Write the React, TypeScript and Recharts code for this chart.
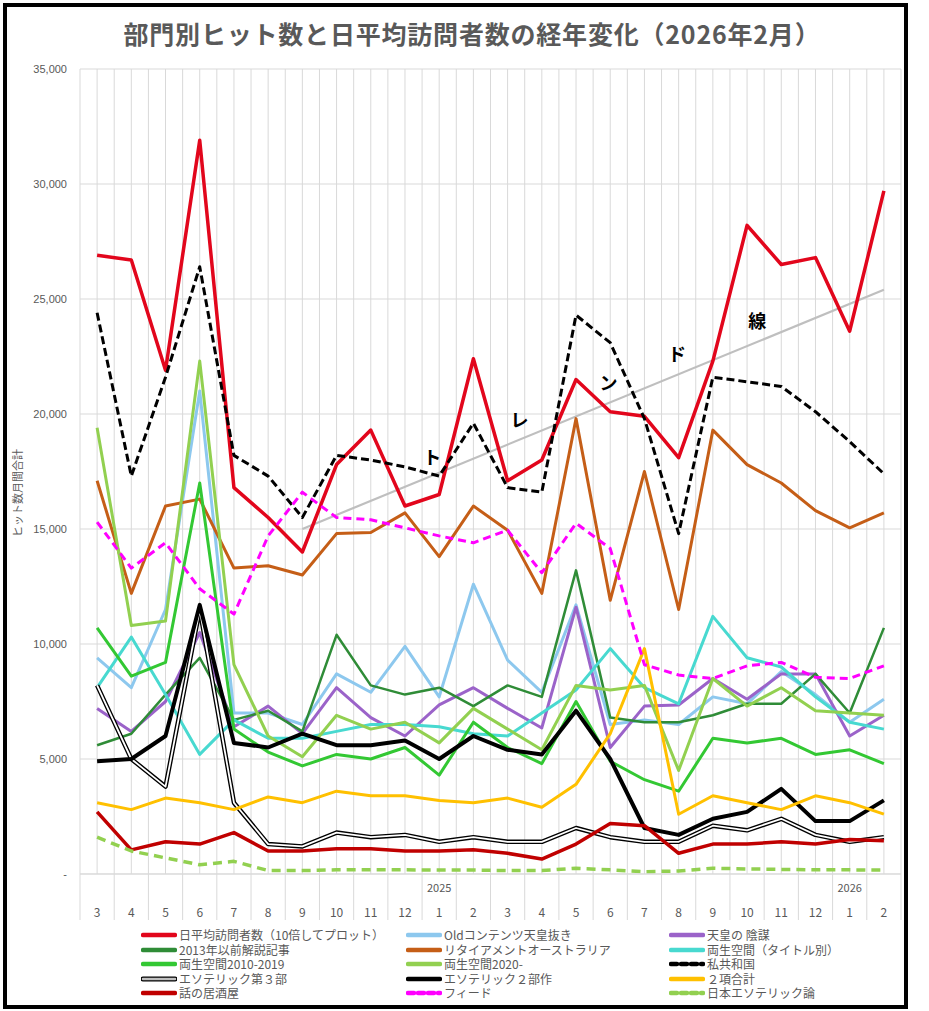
import React from "react";
import {
  LineChart, Line, XAxis, YAxis, CartesianGrid, ReferenceDot,
} from "recharts";

// month categories, 2024/3 .. 2026/2
const months = ["3", "4", "5", "6", "7", "8", "9", "10", "11", "12", "1", "2", "3", "4", "5", "6", "7", "8", "9", "10", "11", "12", "1", "2"];
const yearLabels: Record<number, string> = { 10: "2025", 22: "2026" };
const yTicks = [0, 5000, 10000, 15000, 20000, 25000, 30000, 35000];

const visitors = [26900, 26700, 21900, 31900, 16800, 15500, 14000, 17800, 19300, 16000, 16500, 22400, 17100, 18000, 21500, 20100, 19900, 18100, 22300, 28200, 26500, 26800, 23600, 29700];
const oldContent = [9400, 8100, 11500, 21000, 7000, 7000, 6500, 8700, 7900, 9900, 7700, 12600, 9300, 7900, 11700, 6500, 6700, 6500, 7700, 7400, 8800, 7800, 6600, 7600];
const emperor = [7200, 6200, 7500, 10500, 6400, 7300, 6100, 8100, 6800, 6000, 7350, 8100, 7200, 6350, 11600, 5500, 7300, 7350, 8500, 7600, 8700, 8700, 6000, 6900];
const pre2013 = [5600, 6100, 7800, 9400, 6700, 7100, 6200, 10400, 8200, 7800, 8100, 7300, 8200, 7700, 13200, 6800, 6600, 6600, 6900, 7400, 7400, 8700, 7000, 10700];
const retirement = [17100, 12200, 16000, 16300, 13300, 13400, 13000, 14800, 14850, 15700, 13800, 16000, 14950, 12200, 19800, 11900, 17500, 11500, 19300, 17800, 17000, 15800, 15050, 15700];
const byTitle = [8100, 10300, 7800, 5200, 6700, 5900, 5900, 6200, 6500, 6500, 6400, 6100, 6000, 7000, 8000, 9800, 8100, 7400, 11200, 9400, 9000, 7700, 6600, 6300];
const amph2010 = [10700, 8600, 9200, 17000, 6300, 5300, 4700, 5200, 5000, 5500, 4300, 6600, 5500, 4800, 7500, 4900, 4100, 3600, 5900, 5700, 5900, 5200, 5400, 4800];
const amph2020 = [19400, 10800, 11000, 22300, 9100, 6000, 5100, 6900, 6300, 6600, 5700, 7200, 6300, 5400, 8200, 8000, 8200, 4500, 8500, 7300, 8100, 7100, 7000, 6900];
const republic = [24400, 17300, 21600, 26400, 18200, 17300, 15500, 18200, 18000, 17700, 17300, 19600, 16800, 16600, 24300, 23100, 19800, 14800, 21600, 21400, 21200, 20100, 18800, 17400];
const esoteric3 = [8200, 5000, 3800, 11500, 3100, 1300, 1200, 1800, 1600, 1700, 1400, 1600, 1400, 1400, 2000, 1600, 1400, 1400, 2100, 1900, 2400, 1700, 1400, 1600];
const esoteric2 = [4900, 5000, 6000, 11700, 5700, 5500, 6100, 5600, 5600, 5800, 5000, 6000, 5400, 5200, 7100, 5000, 2000, 1700, 2400, 2700, 3700, 2300, 2300, 3200];
const twoSum = [3100, 2800, 3300, 3100, 2800, 3350, 3100, 3600, 3400, 3400, 3200, 3100, 3300, 2900, 3900, 6100, 9800, 2600, 3400, 3100, 2800, 3400, 3100, 2600];
const izakaya = [2700, 1050, 1400, 1300, 1800, 1000, 1000, 1100, 1100, 1000, 1000, 1050, 900, 650, 1300, 2200, 2100, 900, 1300, 1300, 1400, 1300, 1500, 1450];
const feed = [15300, 13300, 14400, 12400, 11300, 14700, 16600, 15500, 15400, 15050, 14700, 14400, 14950, 13100, 15250, 14150, 9100, 8650, 8500, 9050, 9200, 8550, 8500, 9050];
const nihonEso = [1600, 1000, 700, 400, 550, 150, 150, 180, 180, 180, 170, 170, 150, 150, 250, 180, 100, 130, 250, 220, 200, 180, 180, 170];
// linear trend drawn from 9 (2024) to 2 (2026)
const trend: (number | null)[] = months.map((_, i) => (i === 6 ? 15000 : i === 23 ? 25400 : null));

// "トレンド線" characters placed along the trend line (category index, value)
const trendChars = ["ト", "レ", "ン", "ド", "線"];
const trendCharIdx = [9.8, 12.35, 14.95, 16.95, 19.3];
const trendCharVal = [18100, 19700, 21300, 22600, 24000];

type S = { key: string; name: string; color: string; width: number; dash?: string; double?: boolean };
const series: S[] = [
  { key: "visitors", name: "日平均訪問者数（10倍してプロット）", color: "#E2061C", width: 3.5 },
  { key: "oldContent", name: "Oldコンテンツ天皇抜き", color: "#8DC8EE", width: 3 },
  { key: "emperor", name: "天皇の 陰謀", color: "#9B63C9", width: 3 },
  { key: "pre2013", name: "2013年以前解説記事", color: "#2F8C37", width: 2.5 },
  { key: "retirement", name: "リタイアメントオーストラリア", color: "#C55E17", width: 3 },
  { key: "byTitle", name: "両生空間（タイトル別）", color: "#48D9D0", width: 3 },
  { key: "amph2010", name: "両生空間2010-2019", color: "#33C833", width: 3 },
  { key: "amph2020", name: "両生空間2020-", color: "#92D050", width: 3 },
  { key: "republic", name: "私共和国", color: "#000000", width: 3, dash: "8 4" },
  { key: "esoteric3", name: "エソテリック第３部", color: "#000000", width: 4.5, double: true },
  { key: "esoteric2", name: "エソテリック２部作", color: "#000000", width: 4 },
  { key: "twoSum", name: "２項合計", color: "#FFC000", width: 3 },
  { key: "izakaya", name: "話の居酒屋", color: "#C00000", width: 3.5 },
  { key: "feed", name: "フィード", color: "#FF00FF", width: 3, dash: "8 5" },
  { key: "nihonEso", name: "日本エソテリック論", color: "#92D050", width: 3.5, dash: "9 6" },
];

const data = months.map((m, i) => ({
  idx: i, month: m,
  visitors: visitors[i], oldContent: oldContent[i], emperor: emperor[i], pre2013: pre2013[i],
  retirement: retirement[i], byTitle: byTitle[i], amph2010: amph2010[i], amph2020: amph2020[i],
  republic: republic[i], esoteric3: esoteric3[i], esoteric2: esoteric2[i], twoSum: twoSum[i],
  izakaya: izakaya[i], feed: feed[i], nihonEso: nihonEso[i], trend: trend[i],
}));

// gridlines at category centres and boundaries
const xTicks: number[] = [];
for (let t = -0.5; t <= 23.5; t += 0.5) xTicks.push(t);

const GRID = "#D9D9D9";
const TXT = "#595959";
const JP = '"Noto Sans CJK JP", "Liberation Sans", sans-serif';

const XTick = ({ x, y, payload }: any) => {
  const v = payload.value as number;
  if (!Number.isInteger(v)) {
    return <line x1={x} x2={x} y1={y} y2={y + 46} stroke={GRID} strokeWidth={1} />;
  }
  return (
    <g>
      {yearLabels[v] && (
        <text x={x} y={y + 18} textAnchor="middle" fontSize={11} fill={TXT}>{yearLabels[v]}</text>
      )}
      <text x={x} y={y + 43} textAnchor="middle" fontSize={12} fill={TXT}>{months[v]}</text>
    </g>
  );
};

const Swatch = ({ s }: { s: S }) => (
  <svg width={36} height={8} style={{ display: "block", flex: "none" }}>
    {s.double ? (
      <>
        <line x1={2} x2={34} y1={4} y2={4} stroke="#000" strokeWidth={5} strokeLinecap="round" />
        <line x1={2} x2={34} y1={4} y2={4} stroke="#BFBFBF" strokeWidth={2.5} strokeLinecap="round" />
      </>
    ) : (
      <line x1={2} x2={34} y1={4} y2={4} stroke={s.color} strokeWidth={4.5}
        strokeDasharray={s.dash ? "6 4" : undefined} strokeLinecap="round" />
    )}
  </svg>
);

export default function App() {
  const legendCols = [141, 406, 669];
  return (
    <div style={{ position: "absolute", left: 0, top: 0, width: 929, height: 1011, background: "#fff", fontFamily: JP, overflow: "hidden" }}>
      <div style={{ position: "absolute", left: 3, top: 3, width: 897, height: 998, border: "4px solid #000" }} />
      <div style={{ position: "absolute", left: 0, top: 18, width: 944, textAlign: "center", fontSize: 25, fontWeight: 700, letterSpacing: 0.8, color: TXT, lineHeight: "30px" }}>
        部門別ヒット数と日平均訪問者数の経年変化（2026年2月）
      </div>
      <div style={{ position: "absolute", left: 17, top: 493, transform: "translate(-50%, -50%) rotate(-90deg)", whiteSpace: "nowrap", fontSize: 11, lineHeight: "13px", color: TXT }}>
        ヒット数月間合計
      </div>
      <div style={{ position: "absolute", left: 0, top: 0 }}>
        <LineChart width={929} height={930} data={data} margin={{ top: 69, right: 28, left: 8, bottom: 0 }}>
          <CartesianGrid stroke={GRID} strokeWidth={1} />
          <XAxis type="number" dataKey="idx" domain={[-0.5, 23.5]} ticks={xTicks} interval={0}
            tick={<XTick />} tickLine={false} tickSize={0} tickMargin={0} height={56}
            axisLine={{ stroke: GRID }} allowDecimals />
          <YAxis domain={[0, 35000]} ticks={yTicks} width={72} axisLine={false} tickLine={false}
            tickSize={0} tickMargin={13}
            tick={{ fontSize: 11, fill: TXT, fontFamily: '"Liberation Sans", sans-serif' }}
            tickFormatter={(v: number) => (v === 0 ? "-  " : v.toLocaleString("en-US"))} />
          <Line dataKey="trend" stroke="#BFBFBF" strokeWidth={2.2} dot={false} connectNulls isAnimationActive={false} />
          {series.map((s) =>
            s.double ? (
              <React.Fragment key={s.key}>
                <Line dataKey={s.key} stroke="#000" strokeWidth={4.5} dot={false} strokeLinejoin="round" isAnimationActive={false} />
                <Line dataKey={s.key} stroke="#FFFFFF" strokeWidth={1.8} dot={false} strokeLinejoin="round" isAnimationActive={false} />
              </React.Fragment>
            ) : (
              <Line key={s.key} dataKey={s.key} stroke={s.color} strokeWidth={s.width}
                strokeDasharray={s.dash} dot={false} strokeLinejoin="round" isAnimationActive={false} />
            )
          )}
          {trendChars.map((c, i) => (
            <ReferenceDot key={c} x={trendCharIdx[i]} y={trendCharVal[i]} r={0} fill="none" stroke="none"
              label={{ value: c, position: "center", fontSize: 18, fontWeight: 700, fill: "#000" }} />
          ))}
        </LineChart>
      </div>
      {series.map((s, i) => {
        const col = i % 3;
        const row = Math.floor(i / 3);
        return (
          <div key={s.key} style={{ position: "absolute", left: legendCols[col], top: 928 + row * 14.5, height: 14, lineHeight: "14px", display: "flex", alignItems: "center", fontSize: 12, color: TXT, whiteSpace: "nowrap" }}>
            <Swatch s={s} />
            <span style={{ marginLeft: 2, lineHeight: "14px" }}>{s.name}</span>
          </div>
        );
      })}
    </div>
  );
}
